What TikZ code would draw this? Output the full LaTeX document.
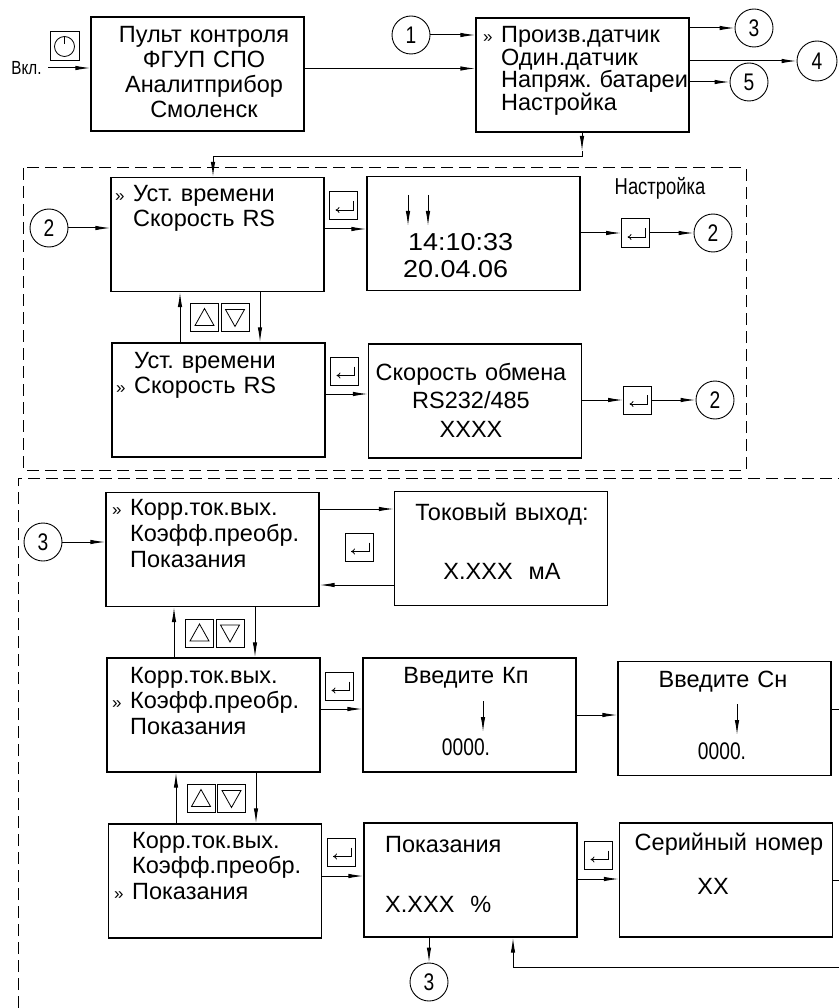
\documentclass[tikz,border=0pt]{standalone}
\usepackage{fontspec}
\setmainfont{Liberation Sans}
\newfontfamily\gostfont{Liberation Sans}[FakeStretch=0.8]
\newfontfamily\widefont{Liberation Sans}[FakeStretch=1.1]
\usetikzlibrary{arrows.meta,positioning,calc}

\newcommand{\menufont}{\fontsize{23.5}{25}\selectfont}
\newcommand{\selmark}{\makebox[18pt][l]{\fontsize{17}{17}\selectfont »}}
\newcommand{\nomark}{\hspace*{18pt}}
\frenchspacing

\begin{document}
\begin{tikzpicture}[x=1pt, y=-1pt,
  box/.style={draw, line width=1.3pt, minimum width=213pt, minimum height=114pt, inner sep=0pt},
  key/.style={draw, line width=1pt, minimum size=28pt, inner sep=0pt},
  enter/.style={key, path picture={\draw[line width=0.8pt, -{To[length=4pt,width=6pt]}]
      ([shift={(-4pt,-9pt)}]path picture bounding box.north east) |- ([shift={(6pt,10pt)}]path picture bounding box.south west);}},
  upkey/.style={key, path picture={\draw[line width=0.8pt]
      ([yshift=9pt]path picture bounding box.center) -- ++(-9.5pt,-17pt) -- ++(19pt,0pt) -- cycle;}},
  downkey/.style={key, path picture={\draw[line width=0.8pt]
      ([yshift=-9pt]path picture bounding box.center) -- ++(-9.5pt,17pt) -- ++(19pt,0pt) -- cycle;}},
  power/.style={key, minimum size=29pt, path picture={\draw[line width=0.8pt] (path picture bounding box.center) circle[radius=10pt];
      \draw[line width=0.8pt] ([yshift=10pt]path picture bounding box.center) -- ++(0pt,-8pt);}},
  circ/.style={draw, circle, line width=0.9pt, minimum size=38pt, inner sep=0pt, font=\gostfont\fontsize{24}{24}\selectfont},
  txt/.style={inner sep=0pt, text width=230pt, align=left, anchor=base west, font=\menufont},
  ctxt/.style={inner sep=0pt, text width=230pt, align=center, anchor=base, font=\menufont},
  gost/.style={inner sep=0pt, anchor=base, font=\gostfont\fontsize{24}{24}\selectfont},
  arr/.style={-{Latex[length=15pt,width=4.5pt]}, line width=1pt},
  line/.style={line width=1pt},
  frame/.style={line width=1pt, dash pattern=on 12pt off 6pt}
]
\useasboundingbox (0,0) rectangle (839,1008);

% top row
\node[box] (pult) at (197.5,74) {};
\node[ctxt] (pulttxt) at (204,43) {Пульт контроля\\ФГУП СПО\\Аналитприбор\\Смоленск};
\node[power] (pwr) at (64.5,46.5) {};
\node[gost, font=\gostfont\fontsize{19}{19}\selectfont] (vkltxt) at (26.5,75) {Вкл.};
\coordinate (vkl) at (48,68);

\node[box] (menu) at (582.5,75) {};
\node[txt, font=\fontsize{23.5}{22.5}\selectfont] (menutxt) at (483,43)
  {\selmark Произв.датчик\\\nomark Один.датчик\\\nomark Напряж. батареи\\\nomark Настройка};
\node[circ] (c1) at (411,35) {1};
\node[circ] (c3a) at (754,28) {3};
\node[circ, minimum size=40pt] (c4) at (817,61) {4};
\node[circ] (c5) at (749,82) {5};

\draw[arr] (vkl) -- (pult.west |- vkl);
\draw[arr] (pult.east |- 0,68.5) -- (menu.west |- 0,68.5);
\draw[arr] (c1) -- (menu.west |- c1);
\draw[arr] (menu.east |- c3a) -- (c3a);
\draw[arr] (menu.east |- c4) -- (c4);
\draw[arr] (menu.east |- c5) -- (c5);

% settings frame
\draw[frame] (23,168) rectangle (746,470);
\node[gost, font=\gostfont\fontsize{23}{23}\selectfont] (nastr) at (660,195) {Настройка};

\node[box] (ust1) at (217.5,234.5) {};
\node[txt] (ust1txt) at (115,202) {\selmark Уст. времени\\\nomark Скорость RS};
\node[box] (time) at (473.5,233.5) {};
\node[txt, font=\widefont\fontsize{24.5}{28}\selectfont] (timetxt) at (403,250) {\hspace*{5pt}14:10:33\\20.04.06};
\draw[arr] (408,195) -- (408,226);
\draw[arr] (428,195) -- (428,226);
\node[enter] (e1) at (343.5,206) {};
\node[enter] (e2) at (635.5,233) {};
\node[circ] (c2a) at (49,228) {2};
\node[circ] (c2b) at (713,233) {2};

\coordinate (turn) at (582,157);
\draw[arr] (menu.south -| turn) -- (582,151);
\draw[arr] (582,151) -- (turn) -| (ust1.north -| 213,0);

\node[upkey] (up1) at (204.5,317.5) {};
\node[downkey] (dn1) at (235,317.5) {};

\node[box] (ust2) at (218.5,400) {};
\node[txt] (ust2txt) at (116,368) {\nomark Уст. времени\\\selmark Скорость RS};
\node[box] (speed) at (475,401) {};
\node[ctxt, font=\fontsize{23.5}{28.5}\selectfont] (speedtxt) at (471,380) {Скорость обмена\\RS232/485\\XXXX};
\node[enter] (e3) at (344.5,371.5) {};
\node[enter] (e4) at (637.5,400) {};
\node[circ] (c2c) at (715,400) {2};

\draw[arr] (c2a) -- (ust1.west |- c2a);
\draw[arr] (ust1.east |- 0,229) -- (time.west |- 0,229);
\draw[arr] (time.east |- e2) -- (e2);
\draw[arr] (e2) -- (c2b);
\draw[arr] (ust2.north -| 180,0) -- (ust1.south -| 180,0);
\draw[arr] (ust1.south -| 260,0) -- (ust2.north -| 260,0);
\draw[arr] (ust2.east |- 0,394) -- (speed.west |- 0,394);
\draw[arr] (speed.east |- e4) -- (e4);
\draw[arr] (e4) -- (c2c);

% sensor frame
\draw[frame] (18,1008) -- (18,478) -- (839,478);

\node[box] (kor1) at (212.5,549.5) {};
\node[txt, font=\fontsize{23.5}{26}\selectfont] (kor1txt) at (112,515)
  {\selmark Корр.ток.вых.\\\nomark Коэфф.преобр.\\\nomark Показания};
\node[box] (tok) at (501,548.5) {};
\node[ctxt] (toktxt) at (502,520) {Токовый выход:\\[34pt]X.XXX\hspace{16pt}мА};
\node[enter] (e5) at (359,547.5) {};
\node[circ] (c3b) at (43,542) {3};

\node[upkey] (up2) at (199.5,633) {};
\node[downkey] (dn2) at (230,633) {};

\node[box] (kor2) at (213.5,715) {};
\node[txt, font=\fontsize{23.5}{25.5}\selectfont] (kor2txt) at (112,683)
  {\nomark Корр.ток.вых.\\\selmark Коэфф.преобр.\\\nomark Показания};
\node[enter] (e6) at (339.5,686.5) {};
\node[box] (kp) at (469.5,715) {};
\node[ctxt] (kptxt) at (466,683) {Введите Кп};
\node[gost] (kpval) at (466,755) {0000.};
\draw[arr] (483,701) -- (483,732);
\node[box] (kn) at (724.5,718.5) {};
\node[ctxt] (kntxt) at (723,687) {Введите Сн};
\node[gost] (knval) at (722,759) {0000.};
\draw[arr] (737,704) -- (737,735);
\coordinate (knout) at (839,709);

\node[upkey] (up3) at (201,798.5) {};
\node[downkey] (dn3) at (231.5,798.5) {};

\node[box] (kor3) at (215,881) {};
\node[txt, font=\fontsize{23.5}{25.5}\selectfont] (kor3txt) at (114,848)
  {\nomark Корр.ток.вых.\\\nomark Коэфф.преобр.\\\selmark Показания};
\node[enter] (e7) at (341,852.5) {};
\node[box] (pok) at (470.5,880) {};
\node[txt] (poktxt) at (385,852) {Показания\\[35pt]X.XXX\hspace{16pt}\%};
\node[enter] (e8) at (598.5,855.5) {};
\node[box] (ser) at (726,880) {};
\node[ctxt] (sertxt) at (729,850) {Серийный номер};
\node[ctxt] (serval) at (713,894) {XX};
\coordinate (serout) at (839,880);
\node[circ] (c3c) at (429,982) {3};
\coordinate (back) at (839,967);

\draw[arr] (c3b) -- (kor1.west |- c3b);
\draw[arr] (kor1.east |- 0,509) -- (tok.west |- 0,509);
\draw[arr] (tok.west |- 0,585) -- (kor1.east |- 0,585);
\draw[arr] (kor2.north -| 174,0) -- (kor1.south -| 174,0);
\draw[arr] (kor1.south -| 255,0) -- (kor2.north -| 255,0);
\draw[arr] (kor2.east |- 0,709) -- (kp.west |- 0,709);
\draw[arr] (kp.east |- 0,715) -- (kn.west |- 0,715);
\draw[line] (kn.east |- knout) -- (knout);
\draw[arr] (kor3.north -| 176,0) -- (kor2.south -| 176,0);
\draw[arr] (kor2.south -| 256,0) -- (kor3.north -| 256,0);
\draw[arr] (kor3.east |- 0,876) -- (pok.west |- 0,876);
\draw[arr] (pok.east |- 0,879) -- (ser.west |- 0,879);
\draw[line] (ser.east |- serout) -- (serout);
\draw[arr] (pok.south -| c3c) -- (c3c);
\draw[arr] (back) -| (pok.south -| 513,0);

\end{tikzpicture}
\end{document}
